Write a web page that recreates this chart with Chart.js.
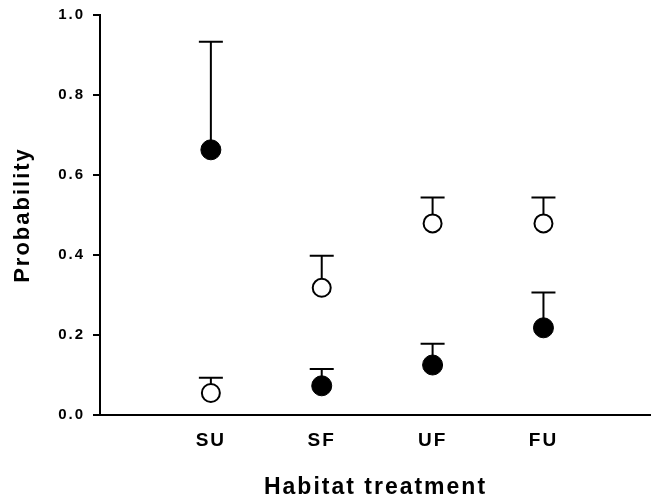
<!DOCTYPE html>
<html>
<head>
<meta charset="utf-8">
<script src="https://cdn.jsdelivr.net/npm/chart.js@4/dist/chart.umd.min.js"></script>
<style>
  html, body { margin: 0; padding: 0; background: #fff; }
  #wrap { width: 651px; height: 502px; }
</style>
</head>
<body>
<div id="wrap"><canvas id="c" width="651" height="502"></canvas></div>
<script>
const categories = ['SU', 'SF', 'UF', 'FU'];
const filledMeans = [0.663, 0.073, 0.125, 0.218];
const filledUpper = [0.933, 0.115, 0.178, 0.306];
const openMeans = [0.055, 0.318, 0.479, 0.479];
const openUpper = [0.093, 0.398, 0.544, 0.544];
const yTicks = [0.0, 0.2, 0.4, 0.6, 0.8, 1.0];

const FONT = 'Arial, "Liberation Sans", sans-serif';

function toPoints(vals) {
  return vals.map((v, i) => ({ x: i + 1, y: v }));
}

const errorBars = {
  id: 'errorBars',
  beforeDraw(chart) {
    chart.ctx.letterSpacing = '2px';
  },
  beforeDatasetsDraw(chart) {
    const ctx = chart.ctx;
    const ys = chart.scales.y;
    ctx.save();
    ctx.strokeStyle = '#000';
    ctx.lineWidth = 2;
    chart.data.datasets.forEach((ds, di) => {
      const meta = chart.getDatasetMeta(di);
      meta.data.forEach((pt, i) => {
        const up = ys.getPixelForValue(ds.upper[i]);
        ctx.beginPath();
        ctx.moveTo(pt.x, pt.y);
        ctx.lineTo(pt.x, up);
        ctx.moveTo(pt.x - 12, up);
        ctx.lineTo(pt.x + 12, up);
        ctx.stroke();
      });
    });
    ctx.restore();
  }
};

new Chart(document.getElementById('c'), {
  type: 'scatter',
  data: {
    datasets: [
      {
        label: 'filled',
        data: toPoints(filledMeans),
        upper: filledUpper,
        pointRadius: 10,
        pointHoverRadius: 10,
        pointBackgroundColor: '#000',
        pointBorderColor: '#000',
        pointBorderWidth: 1
      },
      {
        label: 'open',
        data: toPoints(openMeans),
        upper: openUpper,
        pointRadius: 9,
        pointHoverRadius: 9,
        pointBackgroundColor: '#fff',
        pointBorderColor: '#000',
        pointBorderWidth: 2
      }
    ]
  },
  options: {
    responsive: false,
    animation: false,
    devicePixelRatio: 1,
    layout: { autoPadding: false, padding: { top: 15, left: 0, right: 0, bottom: 0 } },
    plugins: { legend: { display: false }, tooltip: { enabled: false } },
    scales: {
      x: {
        type: 'linear',
        min: 0,
        max: 4.97,
        afterBuildTicks(scale) {
          scale.ticks = categories.map((c, i) => ({ value: i + 1 }));
        },
        afterFit(scale) {
          scale.height = 87;
          scale.paddingLeft = 0;
          scale.paddingRight = 0;
        },
        grid: { display: false, drawTicks: false },
        border: { display: true, color: '#000', width: 2 },
        ticks: {
          padding: 14,
          color: '#000',
          font: { family: FONT, size: 19, weight: 'bold' },
          callback: (v) => categories[Math.round(v) - 1] || ''
        },
        title: {
          display: true,
          text: 'Habitat treatment',
          color: '#000',
          font: { family: FONT, size: 23, weight: 'bold' },
          padding: { top: 0, bottom: 1 }
        }
      },
      y: {
        min: 0,
        max: 1,
        afterBuildTicks(scale) {
          scale.ticks = yTicks.map(v => ({ value: v }));
        },
        afterFit(scale) {
          scale.width = 100;
          scale.paddingTop = 0;
          scale.paddingBottom = 0;
        },
        grid: { drawOnChartArea: false, drawTicks: true, tickLength: 7, color: '#000', lineWidth: 2 },
        border: { display: true, color: '#000', width: 2 },
        ticks: {
          padding: 8,
          color: '#000',
          font: { family: FONT, size: 15, weight: 'bold' },
          callback: (v) => Number(v).toFixed(1)
        },
        title: {
          display: true,
          text: 'Probability',
          color: '#000',
          font: { family: FONT, size: 22, weight: 'bold' },
          padding: { top: 10, bottom: 0 }
        }
      }
    }
  },
  plugins: [errorBars]
});
</script>
</body>
</html>
